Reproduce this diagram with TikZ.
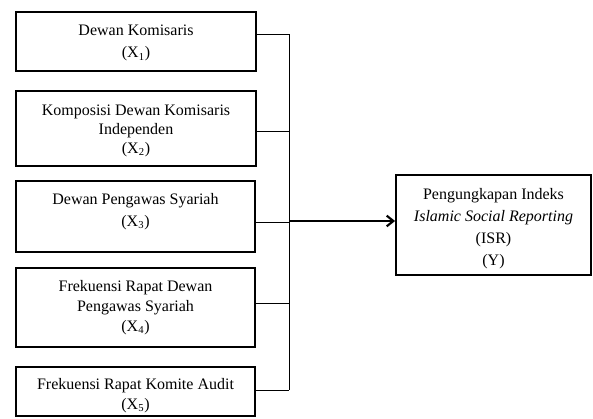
\documentclass[tikz,border=0pt]{standalone}
\usepackage{fontspec}
\setmainfont{Liberation Serif}
\usetikzlibrary{arrows.meta}
\begin{document}
\begin{tikzpicture}[x=0.75pt,y=-0.75pt,
  box/.style={draw,line width=1.4pt,inner sep=0pt},
  txt/.style={anchor=north,align=center,inner sep=0pt,font=\fontsize{12}{15}\selectfont},
  conn/.style={line width=0.75pt},
  arr/.style={line width=1.6pt,-{Straight Barb[length=5pt,width=8pt]}}]
\useasboundingbox (0,0) rectangle (593,418);
% boxes
\node[box,minimum width=240*0.75pt,minimum height=59*0.75pt] (b1) at (136,41.5) {};
\node[box,minimum width=240*0.75pt,minimum height=75*0.75pt] (b2) at (136,128.5) {};
\node[box,minimum width=239*0.75pt,minimum height=71*0.75pt] (b3) at (135.5,216.5) {};
\node[box,minimum width=239*0.75pt,minimum height=79*0.75pt] (b4) at (135.5,307.5) {};
\node[box,minimum width=239*0.75pt,minimum height=49*0.75pt] (b5) at (135.5,391.5) {};
\node[box,minimum width=195*0.75pt,minimum height=100*0.75pt] (y) at (493.5,225) {};
% texts
\node[txt,font=\fontsize{12}{16.5}\selectfont] (t1) at (136,25) {Dewan Komisaris\\(X\textsubscript{1})};
\node[txt,font=\fontsize{12}{14}\selectfont] (t2) at (136,105) {Komposisi Dewan Komisaris\\Independen\\(X\textsubscript{2})};
\node[txt,font=\fontsize{12}{16.5}\selectfont] (t3) at (135.5,193) {Dewan Pengawas Syariah\\(X\textsubscript{3})};
\node[txt] (t4) at (135.5,280) {Frekuensi Rapat Dewan\\Pengawas Syariah\\(X\textsubscript{4})};
\node[txt] (t5) at (135.5,378) {Frekuensi Rapat Komite Audit\\(X\textsubscript{5})};
\node[txt,font=\fontsize{12}{16.5}\selectfont] (ty) at (493.5,188) {Pengungkapan Indeks\\\textit{Islamic Social Reporting}\\(ISR)\\(Y)};
% junctions
\coordinate (j1) at (289,34);
\coordinate (j2) at (289,131);
\coordinate (j3) at (289,222);
\coordinate (j4) at (289,303);
\coordinate (j5) at (289,390);
\coordinate (jm) at (289,221);
% connectors
\draw[conn] (b1.east |- j1) -- (j1);
\draw[conn] (b2.east |- j2) -- (j2);
\draw[conn] (b3.east |- j3) -- (j3);
\draw[conn] (b4.east |- j4) -- (j4);
\draw[conn] (b5.east |- j5) -- (j5);
\draw[conn] (j1) -- (j5);
\draw[arr] (jm) -- (y.west |- jm);
\end{tikzpicture}
\end{document}
